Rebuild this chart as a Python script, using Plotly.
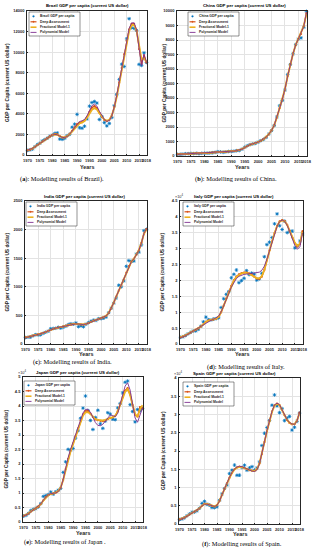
import plotly.graph_objects as go

years = list(range(1970, 2019))
tick_years = [1970, 1975, 1980, 1985, 1990, 1995, 2000, 2005, 2010, 2015, 2018]

brazil_gdp = [445,495,575,800,1020,1150,1370,1500,1640,1810,1930,2100,2150,1550,1520,1620,1880,2000,2700,3000,3950,2650,2600,2800,3500,4750,5100,5200,5050,3450,3750,3150,2830,3070,3640,4790,5890,7350,8830,8600,11290,13250,12370,12300,12110,8810,8710,9930,9000]
brazil_deep = [450,520,620,790,970,1130,1300,1470,1640,1810,1950,2030,2000,1830,1700,1700,1820,2050,2350,2700,3000,3150,3200,3350,3700,4200,4600,4750,4550,4100,3700,3400,3300,3400,3850,4650,5750,7050,8450,9800,11100,12200,12750,12750,12100,10300,8900,9700,9000]
brazil_frac = [460,530,630,790,960,1110,1280,1450,1620,1790,1920,1990,1970,1830,1720,1720,1830,2020,2300,2620,2900,3070,3150,3300,3620,4050,4400,4550,4420,4050,3700,3450,3350,3420,3830,4600,5650,6950,8350,9700,11000,12050,12600,12650,12100,10700,9300,9400,9050]
brazil_poly = [470,540,640,800,970,1130,1300,1470,1640,1800,1930,2000,1970,1830,1710,1700,1800,2020,2330,2700,3050,3250,3330,3450,3800,4350,4800,4950,4750,4250,3800,3450,3280,3350,3800,4650,5800,7150,8550,9900,11200,12300,12850,12850,12150,10500,8700,9800,9000]

china_gdp = [113,119,132,157,160,178,165,185,156,184,195,197,203,225,251,294,282,251,284,311,318,333,366,377,473,610,709,782,829,873,959,1053,1149,1289,1509,1753,2099,2694,3468,3832,4550,5618,6317,7051,7679,8067,8148,8879,9977]
china_deep = [115,122,134,148,160,170,176,178,178,183,192,200,210,226,248,268,278,280,290,305,322,342,372,410,475,580,690,780,840,892,962,1052,1160,1300,1505,1765,2120,2660,3300,3900,4600,5520,6320,7060,7660,8080,8420,8960,9850]
china_frac = [118,124,135,148,158,168,174,178,180,184,191,199,210,226,246,265,275,281,292,307,323,344,375,415,480,585,690,778,838,890,960,1050,1160,1305,1510,1770,2130,2650,3290,3920,4620,5500,6310,7050,7660,8090,8450,8970,9820]
china_poly = [110,120,133,147,159,169,175,178,179,183,191,199,210,226,247,267,277,281,291,306,321,342,373,412,478,582,688,779,839,891,961,1051,1158,1302,1508,1768,2125,2655,3295,3910,4610,5510,6315,7055,7665,8085,8430,8940,9900]

india_gdp = [112,118,122,143,163,158,161,186,206,224,267,271,275,292,277,296,310,340,354,347,368,303,317,301,346,374,400,415,413,442,443,452,471,546,627,714,806,1028,999,1102,1358,1458,1444,1450,1574,1606,1733,1981,2005]
india_deep = [115,122,132,145,157,167,178,192,210,228,248,264,277,287,297,308,320,333,344,350,352,347,340,340,348,366,388,407,420,434,448,465,492,542,620,720,830,935,1030,1130,1250,1360,1440,1490,1560,1640,1770,1930,2010]
india_frac = [117,124,134,146,158,168,179,193,210,227,246,262,275,286,297,309,321,334,344,349,350,346,341,342,350,367,388,406,419,433,447,465,494,545,623,722,828,932,1028,1128,1248,1358,1438,1492,1562,1642,1772,1928,2005]
india_poly = [113,121,131,144,156,167,178,192,210,228,248,264,277,288,298,309,321,334,345,351,352,348,342,341,349,366,387,406,419,433,447,464,491,541,619,720,832,938,1034,1134,1254,1362,1440,1488,1555,1638,1768,1935,2015]

italy_gdp = [2106,2305,2671,3205,3651,4104,4106,4614,5605,6990,8457,7640,7568,7846,7962,8224,11478,14226,15625,16496,20826,21941,23283,19286,19937,20665,23082,21829,22318,21997,20088,20483,22251,27467,31260,32043,33501,37822,40945,37226,36036,38650,35054,35549,35518,30230,30940,32407,34622]
italy_deep = [2100,2350,2700,3150,3600,4050,4450,4900,5450,6200,7000,7400,7550,7700,7950,8500,10000,12100,14300,16300,18300,20000,21200,21900,22300,22500,22500,22200,21800,21200,20600,20500,21200,23300,26500,29500,32200,34900,37200,38600,39000,38700,37500,35500,33500,31700,30700,31500,35500]
italy_frac = [2150,2400,2750,3200,3650,4100,4500,4950,5500,6200,6950,7350,7550,7750,8000,8550,10050,12100,14200,16200,18200,19900,21100,21800,22200,22400,22400,22100,21700,21200,20700,20650,21350,23400,26500,29500,32200,34800,37100,38500,38900,38600,37400,35500,33600,31800,30900,31600,35300]
italy_poly = [2000,2250,2650,3150,3650,4150,4600,5050,5550,6100,6700,7150,7450,7750,8150,8800,10100,11900,13900,15900,17900,19500,20600,21300,21700,21900,22000,22100,22200,22300,22400,22600,23200,24500,26700,29300,32100,34800,37000,38500,39000,38600,37300,35300,33000,31000,29800,30600,35000]

japan_gdp = [2056,2272,2967,3997,4354,4659,5197,6335,8821,9105,9463,10361,9578,10425,10984,11585,17112,20745,25052,24813,25359,28925,31465,35766,39269,43440,38437,35022,31903,36027,38532,33846,32289,34808,37689,37218,35434,35275,39339,40855,44508,48168,48603,40454,38109,34524,38794,38332,39159]
japan_deep = [2100,2400,2900,3600,4200,4650,5250,6200,7500,8600,9300,9700,9850,10100,10600,11800,14500,18200,21800,24600,27000,29600,32300,35000,37000,38200,38300,37400,36200,35400,35100,34900,34800,35000,35500,35900,36100,36600,38200,40500,43000,45300,46200,44000,40300,37000,36400,39600,39200]
japan_frac = [2150,2450,2950,3600,4200,4650,5250,6150,7400,8500,9200,9650,9850,10150,10700,11900,14500,18000,21600,24400,26900,29500,32200,34800,36700,37800,37900,37200,36200,35500,35200,35000,35000,35200,35600,35900,36100,36600,38100,40300,42700,44900,45800,43800,40400,37300,36200,38900,40300]
japan_poly = [2050,2350,2850,3550,4200,4700,5300,6250,7550,8650,9350,9750,9850,10050,10500,11700,14600,18500,22200,25100,27500,30000,32700,35400,37600,38800,38900,37800,36000,34300,33300,33200,33700,34800,36200,36900,36700,36300,37500,40300,43800,46900,48000,45500,40600,35900,34400,37000,39400]

spain_gdp = [1208,1370,1707,2247,2749,3209,3279,3627,4323,5650,6208,5362,5186,4507,4482,4700,6513,8238,9701,10681,13805,14747,16136,13342,13376,15470,16110,14718,15395,15716,14788,15367,17042,21502,24861,26419,28365,32549,35366,32334,30503,31637,28324,29059,29462,25732,26506,28101,30371]
spain_deep = [1250,1450,1750,2150,2600,3000,3350,3750,4300,5000,5500,5500,5250,4950,4800,5150,6300,8000,9700,11200,12700,14000,15000,15500,15700,15600,15300,15000,14750,14600,14550,15050,16550,19200,22500,25500,28300,30800,32500,33000,32600,31300,29800,28500,27700,27300,27300,28300,30500]
spain_frac = [1300,1500,1780,2170,2600,3000,3350,3750,4280,4950,5450,5480,5250,4950,4820,5180,6320,8000,9650,11150,12650,13950,14950,15450,15650,15550,15250,14950,14700,14550,14550,15050,16600,19250,22500,25450,28200,30700,32400,32950,32600,31350,29850,28550,27750,27350,27350,28350,30400]
spain_poly = [1200,1420,1730,2140,2600,3020,3380,3780,4300,4950,5400,5450,5250,4950,4800,5100,6250,8000,9750,11300,12800,14100,15100,15600,15800,15700,15400,15050,14750,14500,14400,14900,16500,19200,22600,25600,28400,30900,32600,33100,32700,31400,29900,28600,27800,27400,27300,28200,30600]

model_names = ["Deep Assessment", "Fractional Model-1", "Polynomial Model"]

W, H = 312, 550
def fx(px):
    return px / W
def fy(py):
    return 1 - py / H

C_DATA = "#0072BD"
C_DEEP = "#D95319"
C_FRAC = "#EDB120"
C_POLY = "#7E2F8E"
SANS = "Liberation Sans"
SERIF = "Liberation Serif"

panels = [
    dict(country="Brazil", d=(brazil_gdp, brazil_deep, brazil_frac, brazil_poly),
         box=(27, 147, 11, 155), ymax=14000, dtick=2000, scale=1,
         leg=(29, 12), ytx=8, title_dx=0, years_y=167, cap="a",
         cap_text="Modelling results of Brazil).", cap_xy=(62, 179)),
    dict(country="China", d=(china_gdp, china_deep, china_frac, china_poly),
         box=(177, 307, 11, 156), ymax=10000, dtick=1000, scale=1,
         leg=(188, 12), ytx=164, title_dx=2, years_y=167, cap="b",
         cap_text="Modelling results of China.", cap_xy=(236, 179)),
    dict(country="India", d=(india_gdp, india_deep, india_frac, india_poly),
         box=(25, 147, 201, 344), ymax=2500, dtick=500, scale=1,
         leg=(26, 202), ytx=7, title_dx=-1, years_y=354, cap="c",
         cap_text="Modelling results of India.", cap_xy=(72, 362)),
    dict(country="Italy", d=(italy_gdp, italy_deep, italy_frac, italy_poly),
         box=(180, 303, 201, 344), ymax=4.5, dtick=0.5, scale=1e4,
         leg=(183, 202), ytx=162, title_dx=-8, years_y=354, cap="d",
         cap_text="Modelling results of Italy.", cap_xy=(246, 367)),
    dict(country="Japan", d=(japan_gdp, japan_deep, japan_frac, japan_poly),
         box=(23, 143, 377, 522), ymax=5, dtick=0.5, scale=1e4,
         leg=(24, 381), ytx=6, title_dx=-5, years_y=533, cap="e",
         cap_text="Modelling results of Japan .", cap_xy=(65, 542)),
    dict(country="Spain", d=(spain_gdp, spain_deep, spain_frac, spain_poly),
         box=(179, 300, 378, 524), ymax=4, dtick=0.5, scale=1e4,
         leg=(183, 382), ytx=163, title_dx=-5, years_y=534, cap="f",
         cap_text="Modelling results of Spain.", cap_xy=(242, 544)),
]

fig = go.Figure()
shapes = []
annotations = []
layout = dict(width=W, height=H, margin=dict(l=0, r=0, t=0, b=0),
              paper_bgcolor="white", plot_bgcolor="white", showlegend=False)

tickfont = dict(family=SANS, size=4.0, color="#262626", weight="bold")

for i, p in enumerate(panels, start=1):
    sfx = "" if i == 1 else str(i)
    xref, yref = "x" + sfx, "y" + sfx
    gdp, deep, frac, poly = p["d"]
    s = p["scale"]
    fig.add_trace(go.Scatter(x=years, y=[v / s for v in gdp], mode="markers",
                             xaxis=xref, yaxis=yref, cliponaxis=False,
                             name=p["country"] + " GDP per capita",
                             marker=dict(symbol="asterisk-open", size=3.0, color=C_DATA,
                                         line=dict(color=C_DATA, width=0.8))))
    fig.add_trace(go.Scatter(x=years, y=[v / s for v in deep], mode="lines+markers",
                             xaxis=xref, yaxis=yref, name=model_names[0],
                             line=dict(color=C_DEEP, width=1.3),
                             marker=dict(symbol="circle", size=2.2, color=C_DEEP)))
    fig.add_trace(go.Scatter(x=years, y=[v / s for v in frac], mode="lines",
                             xaxis=xref, yaxis=yref, name=model_names[1],
                             line=dict(color=C_FRAC, width=1.8)))
    fig.add_trace(go.Scatter(x=years, y=[v / s for v in poly], mode="lines",
                             xaxis=xref, yaxis=yref, name=model_names[2],
                             line=dict(color=C_POLY, width=0.9)))

    l, r, t, b = p["box"]
    layout["xaxis" + sfx] = dict(
        domain=[fx(l), fx(r)], anchor=yref, range=[1969.8, 2018.2],
        tickvals=tick_years, ticktext=[str(y) for y in tick_years],
        tickangle=0, tickfont=tickfont, ticks="inside", ticklen=1.5, tickwidth=0.5,
        tickcolor="#262626", showgrid=True, gridcolor="#e3e3e3", gridwidth=0.5,
        showline=True, linecolor="#262626", linewidth=0.6, mirror=True,
        zeroline=False, ticklabelstandoff=1, automargin=False)
    layout["yaxis" + sfx] = dict(
        domain=[fy(b), fy(t)], anchor=xref, range=[0, p["ymax"]], dtick=p["dtick"],
        tick0=0, tickformat=("d" if s == 1 else ""), tickfont=tickfont,
        ticks="inside", ticklen=1.5, tickwidth=0.5,
        tickcolor="#262626", showgrid=True, gridcolor="#e3e3e3", gridwidth=0.5,
        showline=True, linecolor="#262626", linewidth=0.6, mirror=True,
        zeroline=False, ticklabelstandoff=1, automargin=False)

    cx = (l + r) / 2
    annotations.append(dict(x=fx(cx + p["title_dx"]), y=fy(t - 5), xref="paper", yref="paper",
                            text=p["country"] + " GDP per capita (current US dollar)",
                            showarrow=False, xanchor="center", yanchor="middle",
                            font=dict(family=SANS, size=4.3, color="black", weight="bold")))
    if s != 1:
        annotations.append(dict(x=fx(l - 1), y=fy(t - 5), xref="paper", yref="paper",
                                text="\u00d710<sup>4</sup>", showarrow=False,
                                xanchor="center", yanchor="middle",
                                font=dict(family=SANS, size=3.8, color="#262626")))
    annotations.append(dict(x=fx(cx), y=fy(p["years_y"]), xref="paper", yref="paper",
                            text="Years", showarrow=False, xanchor="center", yanchor="middle",
                            font=dict(family=SANS, size=5.4, color="#262626", weight="bold")))
    annotations.append(dict(x=fx(p["ytx"]), y=fy((t + b) / 2), xref="paper", yref="paper",
                            text="GDP per Capita (current US dollar)", textangle=-90,
                            showarrow=False, xanchor="center", yanchor="middle",
                            font=dict(family=SANS, size=4.8, color="#262626", weight="bold")))
    annotations.append(dict(x=fx(p["cap_xy"][0]), y=fy(p["cap_xy"][1]), xref="paper", yref="paper",
                            text="(<b>" + p["cap"] + "</b>): " + p["cap_text"],
                            showarrow=False, xanchor="center", yanchor="middle",
                            font=dict(family=SERIF, size=6.4, color="black")))

    # legend box
    L, T = p["leg"]
    shapes.append(dict(type="rect", xref="paper", yref="paper",
                       x0=fx(L), x1=fx(L + 51), y0=fy(T + 24), y1=fy(T),
                       fillcolor="white", line=dict(color="#262626", width=0.5), layer="above"))
    rows = [T + 4.3, T + 9.8, T + 15.2, T + 20.4]
    labels = [p["country"] + " GDP per capita"] + model_names
    shapes.append(dict(type="circle", xref="paper", yref="paper",
                       x0=fx(L + 3.6), x1=fx(L + 5.4), y0=fy(rows[0] + 0.9), y1=fy(rows[0] - 0.9),
                       fillcolor=C_DATA, line=dict(color=C_DATA, width=0.3), layer="above"))
    for k, (col, wd) in enumerate([(C_DEEP, 1.2), (C_FRAC, 1.6), (C_POLY, 0.9)], start=1):
        shapes.append(dict(type="line", xref="paper", yref="paper",
                           x0=fx(L + 1.5), x1=fx(L + 7.5), y0=fy(rows[k]), y1=fy(rows[k]),
                           line=dict(color=col, width=wd), layer="above"))
    shapes.append(dict(type="circle", xref="paper", yref="paper",
                       x0=fx(L + 3.8), x1=fx(L + 5.2), y0=fy(rows[1] + 0.7), y1=fy(rows[1] - 0.7),
                       fillcolor=C_DEEP, line=dict(color=C_DEEP, width=0.3), layer="above"))
    for k, lab in enumerate(labels):
        annotations.append(dict(x=fx(L + 9), y=fy(rows[k]), xref="paper", yref="paper",
                                text=lab, showarrow=False, xanchor="left", yanchor="middle",
                                font=dict(family=SANS, size=3.4, color="#262626", weight="bold")))

layout["shapes"] = shapes
layout["annotations"] = annotations
fig.update_layout(**layout)
fig.write_html("out.html", config={"displayModeBar": False},
               post_script="document.body.style.margin='0';document.body.style.padding='0';")
